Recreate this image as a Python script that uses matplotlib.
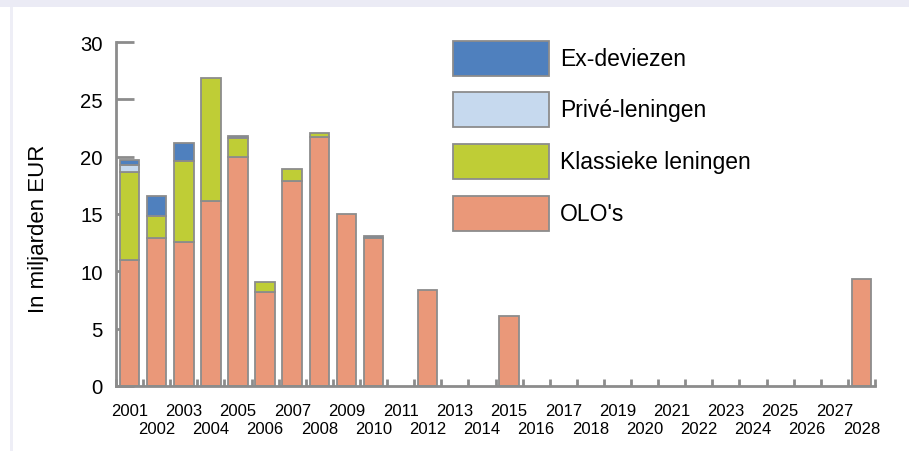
import matplotlib
matplotlib.use("Agg")
import matplotlib.pyplot as plt
from matplotlib.patches import Rectangle
import numpy as np

plt.rcParams['font.family'] = ['Liberation Sans', 'DejaVu Sans']

years = list(range(2001, 2029))
olo = [11.0, 12.9, 12.55, 16.1, 20.0, 8.2, 17.9, 21.75, 14.96, 12.9,
       0, 8.35, 0, 0, 6.07, 0, 0, 0, 0, 0, 0, 0, 0, 0, 0, 0, 0, 9.36]
klassiek = [7.65, 1.9, 7.05, 10.8, 1.6, 0.9, 1.0, 0.35, 0, 0,
            0, 0, 0, 0, 0, 0, 0, 0, 0, 0, 0, 0, 0, 0, 0, 0, 0, 0]
prive = [0.65, 0, 0, 0, 0, 0, 0, 0, 0, 0,
         0, 0, 0, 0, 0, 0, 0, 0, 0, 0, 0, 0, 0, 0, 0, 0, 0, 0]
exdev = [0.4, 1.8, 1.6, 0, 0.2, 0, 0, 0, 0, 0.2,
         0, 0, 0, 0, 0, 0, 0, 0, 0, 0, 0, 0, 0, 0, 0, 0, 0, 0]

series = [("OLO's", olo, '#EA9879'),
          ("Klassieke leningen", klassiek, '#BFCD36'),
          ("Privé-leningen", prive, '#C6D9EE'),
          ("Ex-deviezen", exdev, '#4F80BE')]
edge = '#8C8C8C'

W, H = 909, 452
fig = plt.figure(figsize=(W/100, H/100), dpi=100)
fig.patches.append(Rectangle((0, 1 - 8/H), 1, 8/H, transform=fig.transFigure,
                             facecolor='#EBEBF5', edgecolor='none'))
fig.patches.append(Rectangle((10/W, 0), 3/W, 1 - 8/H, transform=fig.transFigure,
                             facecolor='#EEEEF6', edgecolor='none'))

ax = fig.add_axes([116/W, (H-387)/H, 759/W, 344/H])
x = np.arange(len(years))
bottom = np.zeros(len(years))
for name, vals, col in series:
    v = np.array(vals, dtype=float)
    lw = np.where(v > 0, 1.3, 0)
    ax.bar(x, v, width=0.72, bottom=bottom, color=col, edgecolor=edge,
           linewidth=lw, zorder=3)
    bottom += v

ax.set_xlim(-0.5, len(years) - 0.5)
ax.set_ylim(0, 30)
for s in ['top', 'right']:
    ax.spines[s].set_visible(False)
for s in ['left', 'bottom']:
    ax.spines[s].set_color(edge)
    ax.spines[s].set_linewidth(2)
    ax.spines[s].set_zorder(4)

ax.set_yticks([0, 5, 10, 15, 20, 25, 30])
ax.tick_params(axis='y', direction='in', length=13, width=2, color=edge,
               labelsize=14.6, pad=9.5)

ax.set_xticks(x)
ax.set_xticklabels([str(y) for y in years])
ax.tick_params(axis='x', which='major', length=0, labelsize=12, pad=12.5)
for i, t in enumerate(ax.xaxis.get_major_ticks()):
    if i % 2 == 1:
        t.set_pad(25.0)
ax.set_xticks(np.arange(len(years) + 1) - 0.5, minor=True)
ax.tick_params(axis='x', which='minor', direction='in', length=5, width=2,
               color=edge)

fig.text(38.5/W, (H-229)/H, "In miljarden EUR", rotation=90, fontsize=16,
         ha='center', va='center')

# legend drawn in figure pixel coordinates
leg_tops = [42, 93, 145, 197]
for (name, _, col), top in zip(series[::-1], leg_tops):
    fig.patches.append(Rectangle((453/W, (H - top - 35)/H), 96/W, 35/H,
                                 transform=fig.transFigure, facecolor=col,
                                 edgecolor=edge, linewidth=1.3))
    fig.text(560/W, (H - top - 17.5)/H, name, fontsize=16.5, ha='left',
             va='center')

fig.savefig("out.png", dpi=100)
